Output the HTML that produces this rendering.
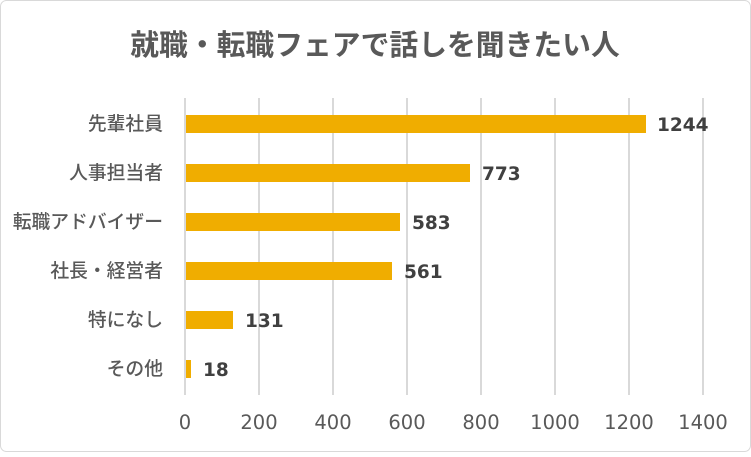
<!DOCTYPE html>
<html><head><meta charset="utf-8"><style>
body{margin:0;width:751px;height:452px;background:#fff;overflow:hidden}
</style></head><body>
<svg width="751" height="452" xmlns="http://www.w3.org/2000/svg" font-family="DejaVu Sans, Noto Sans CJK JP, sans-serif">
<rect x="0.5" y="0.5" width="750" height="451" rx="6" fill="#fff" stroke="#d9d9d9"/>
<text x="375" y="55" text-anchor="middle" font-size="28.8" fill="#595959" font-weight="bold" font-family="Noto Sans CJK JP, sans-serif">就職・転職フェアで話しを聞きたい人</text>
<g stroke="#d9d9d9" stroke-width="2">
<line x1="185" y1="98" x2="185" y2="395"/><line x1="259" y1="98" x2="259" y2="395"/><line x1="333" y1="98" x2="333" y2="395"/><line x1="407" y1="98" x2="407" y2="395"/><line x1="481" y1="98" x2="481" y2="395"/><line x1="555" y1="98" x2="555" y2="395"/><line x1="629" y1="98" x2="629" y2="395"/><line x1="703" y1="98" x2="703" y2="395"/>
</g>
<g fill="#F0AD00">
<rect x="186" y="115" width="460" height="18"/>
<rect x="186" y="164" width="284" height="18"/>
<rect x="186" y="213" width="214" height="18"/>
<rect x="186" y="262" width="206" height="18"/>
<rect x="186" y="311" width="47" height="18"/>
<rect x="186" y="360" width="5" height="18"/>
</g>
<g font-size="18.5" fill="#404040" font-weight="bold">
<text x="657" y="131">1244</text><text x="482" y="180">773</text><text x="412" y="229">583</text><text x="404" y="278">561</text><text x="245" y="327">131</text><text x="203" y="376">18</text>
</g>
<g font-size="18.8" fill="#595959" text-anchor="end" font-weight="500" font-family="Noto Sans CJK JP, sans-serif">
<text x="163" y="130">先輩社員</text><text x="163" y="179">人事担当者</text><text x="163" y="228">転職アドバイザー</text><text x="163" y="277">社長・経営者</text><text x="163" y="326">特になし</text><text x="163" y="375">その他</text>
</g>
<g font-size="19.5" fill="#595959" text-anchor="middle">
<text x="185" y="429">0</text><text x="259" y="429">200</text><text x="333" y="429">400</text><text x="407" y="429">600</text><text x="481" y="429">800</text><text x="555" y="429">1000</text><text x="629" y="429">1200</text><text x="703" y="429">1400</text>
</g>
</svg>
</body></html>
